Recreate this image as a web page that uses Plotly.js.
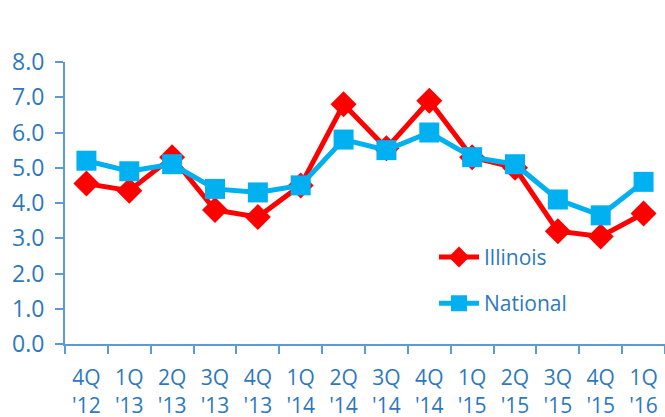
<!DOCTYPE html>
<html>
<head>
<meta charset="utf-8">
<script src="https://cdn.plot.ly/plotly-3.0.1.min.js"></script>
<style>html,body{margin:0;padding:0;background:#fff;}#chart{width:665px;height:417px;}</style>
</head>
<body>
<div id="chart"></div>
<script>
var categories = ["4Q<br>'12","1Q<br>'13","2Q<br>'13","3Q<br>'13","4Q<br>'13","1Q<br>'14","2Q<br>'14","3Q<br>'14","4Q<br>'14","1Q<br>'15","2Q<br>'15","3Q<br>'15","4Q<br>'15","1Q<br>'16"];
var illinois = [4.55, 4.35, 5.3, 3.8, 3.6, 4.5, 6.8, 5.55, 6.9, 5.3, 5.0, 3.2, 3.05, 3.7];
var national = [5.2, 4.9, 5.1, 4.4, 4.3, 4.5, 5.8, 5.5, 6.0, 5.3, 5.1, 4.1, 3.65, 4.6];

var textColor = "#2E78BE";
var axisColor = "#5B9BD5";
var fontFam = "'Open Sans', 'Noto Sans', sans-serif";

var traces = [
  {x: categories, y: illinois, name: "Illinois", legendgroup: "a", type: "scatter", mode: "lines+markers",
   line: {color: "#FF0000", width: 5}, marker: {symbol: "diamond", size: 20, color: "#FF0000"}},
  {x: categories, y: national, name: "National", legendgroup: "b", type: "scatter", mode: "lines+markers",
   line: {color: "#00B0F0", width: 5}, marker: {symbol: "square", size: 20, color: "#00B0F0"}}
];

var layout = {
  width: 665, height: 417,
  margin: {l: 65, r: 0, t: 62, b: 73},
  paper_bgcolor: "#fff", plot_bgcolor: "#fff",
  font: {family: fontFam, color: textColor, size: 20},
  showlegend: true,
  legend: {x: 0.615, y: 0.38, xanchor: "left", yanchor: "top", bgcolor: "rgba(0,0,0,0)",
           font: {size: 21, color: textColor}, tracegroupgap: 16, itemwidth: 40},
  xaxis: {type: "category", range: [-0.5, 13.5], showgrid: false, zeroline: false,
          showline: true, linecolor: axisColor, linewidth: 2,
          ticks: "outside", tickson: "boundaries", ticklen: 8, tickcolor: axisColor, tickwidth: 2,
          ticklabelstandoff: 14,
          tickfont: {size: 21, color: textColor}, fixedrange: true},
  yaxis: {range: [0, 8], dtick: 1, tickformat: ".1f", showgrid: false, zeroline: false,
          showline: true, linecolor: axisColor, linewidth: 2,
          ticks: "outside", ticklen: 8, tickcolor: axisColor, tickwidth: 2,
          ticklabelstandoff: 6,
          tickfont: {size: 23, color: textColor}, fixedrange: true}
};

Plotly.newPlot("chart", traces, layout, {displayModeBar: false, staticPlot: true});
</script>
</body>
</html>
